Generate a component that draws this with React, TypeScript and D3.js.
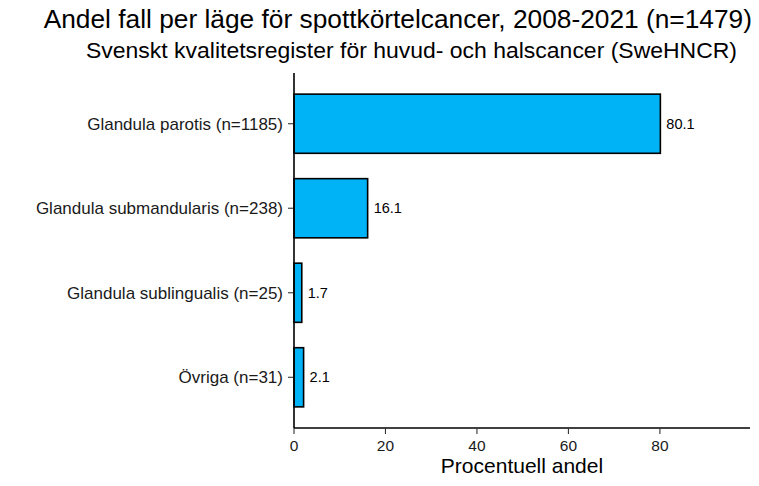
import React from 'react';
import * as d3 from 'd3';

const categories = [
  'Glandula parotis (n=1185)',
  'Glandula submandularis (n=238)',
  'Glandula sublingualis (n=25)',
  'Övriga (n=31)',
];
const values = [80.1, 16.1, 1.7, 2.1];
const xTicks = [0, 20, 40, 60, 80];

const title = 'Andel fall per läge för spottkörtelcancer, 2008-2021 (n=1479)';
const subtitle = 'Svenskt kvalitetsregister för huvud- och halscancer (SweHNCR)';
const xLabel = 'Procentuell andel';

const W = 759;
const H = 486;
const margin = { top: 73, right: 9, bottom: 58, left: 294 };
const font = '"Liberation Sans", Arial, Helvetica, sans-serif';

const App: React.FC = () => {
  const innerW = W - margin.left - margin.right;
  const innerH = H - margin.top - margin.bottom;

  const x = d3.scaleLinear().domain([0, 99.7]).range([0, innerW]);
  // ggplot style discrete expansion: 0.6 units on each side
  const y = d3.scaleLinear().domain([0.4, 4.6]).range([0, innerH]);
  const barH = y(1.7) - y(1);

  return (
    <svg width={W} height={H} style={{ position: 'absolute', left: 0, top: 0, fontFamily: font }}>
      <rect width={W} height={H} fill="#fff" />
      <text x={752} y={28} textAnchor="end" fontSize={26.3} fill="#000">{title}</text>
      <text x={737} y={58} textAnchor="end" fontSize={22.4} fill="#000" textLength={651} lengthAdjust="spacingAndGlyphs">{subtitle}</text>
      <g transform={`translate(${margin.left},${margin.top})`}>
        {categories.map((c, i) => {
          const cy = y(i + 1);
          return (
            <g key={c}>
              <rect
                x={x(0)}
                y={cy - barH / 2}
                width={x(values[i]) - x(0)}
                height={barH}
                fill="#00B2F6"
                stroke="#000"
                strokeWidth={1.6}
              />
              <text x={x(values[i]) + 6} y={cy} dy="0.35em" fontSize={14.5} fill="#000">
                {values[i].toFixed(1)}
              </text>
              <line x1={-6} x2={0} y1={cy} y2={cy} stroke="#333" strokeWidth={1.1} />
              <text x={-11} y={cy} dy="0.35em" textAnchor="end" fontSize={17} fill="#1a1a1a">
                {c}
              </text>
            </g>
          );
        })}
        <line x1={0} x2={0} y1={0} y2={innerH} stroke="#000" strokeWidth={1.6} />
        <line x1={0} x2={innerW} y1={innerH} y2={innerH} stroke="#000" strokeWidth={1.6} />
        {xTicks.map((t) => (
          <g key={t} transform={`translate(${x(t)},${innerH})`}>
            <line y1={0} y2={6} stroke="#333" strokeWidth={1.1} />
            <text y={23} textAnchor="middle" fontSize={15.5} fill="#1a1a1a">{t}</text>
          </g>
        ))}
        <text x={innerW / 2} y={innerH + 45} textAnchor="middle" fontSize={21} fill="#000">
          {xLabel}
        </text>
      </g>
    </svg>
  );
};

export default App;
